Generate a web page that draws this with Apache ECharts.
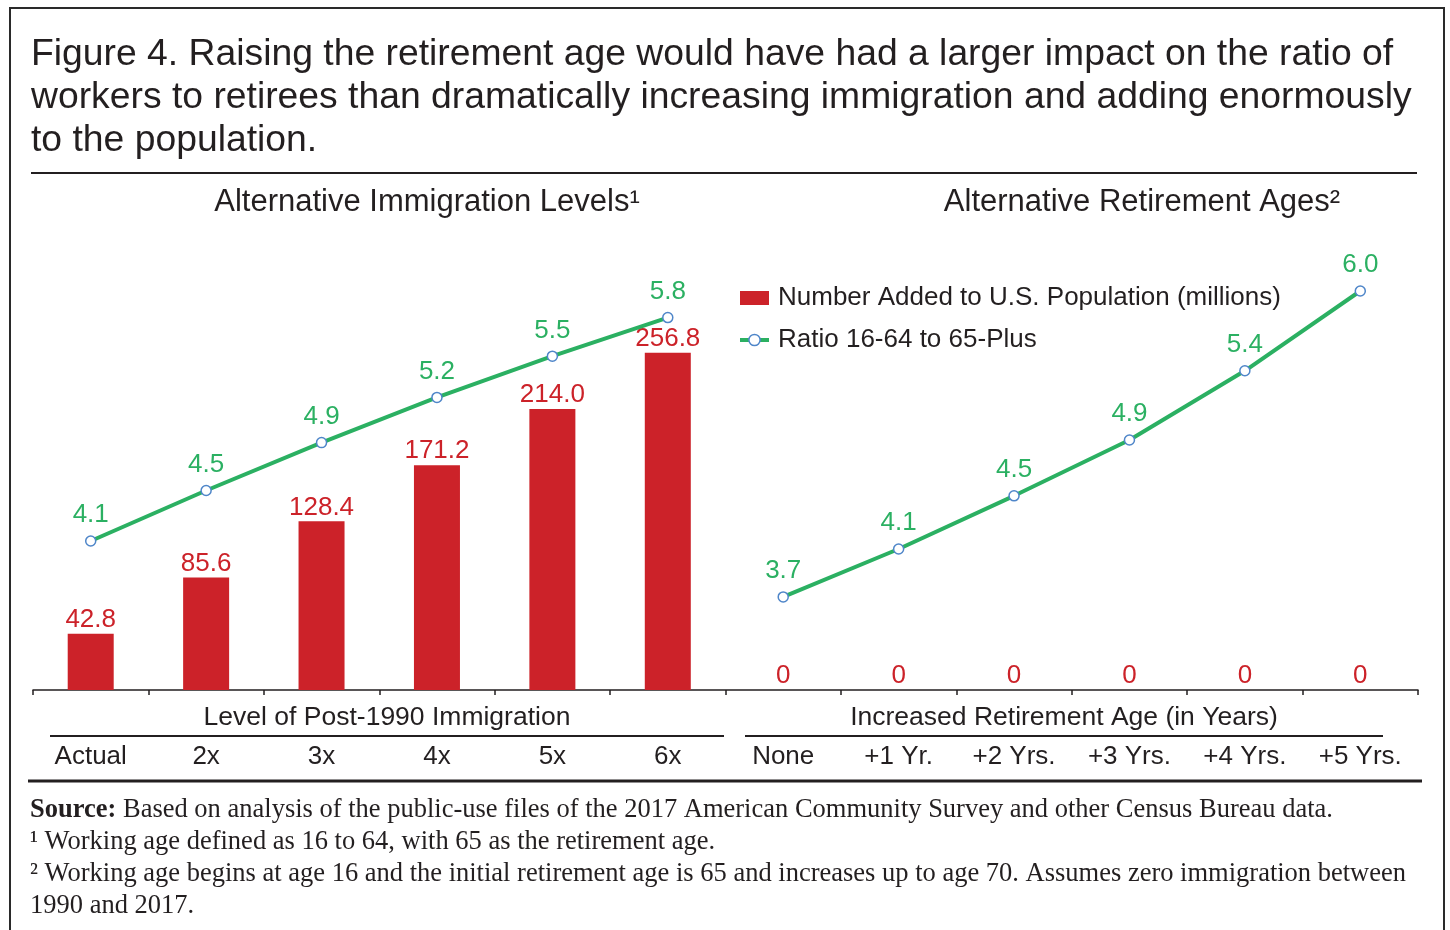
<!DOCTYPE html>
<html>
<head>
<meta charset="utf-8">
<script src="https://cdn.jsdelivr.net/npm/echarts@6/dist/echarts.min.js"></script>
<style>
  html, body { margin: 0; padding: 0; background: #fff; }
  #main { width: 1450px; height: 930px; }
</style>
</head>
<body>
<div id="main"></div>
<script>
const categories = ['Actual', '2x', '3x', '4x', '5x', '6x', 'None', '+1 Yr.', '+2 Yrs.', '+3 Yrs.', '+4 Yrs.', '+5 Yrs.'];
// millions added to U.S. population
const addedPop = [42.8, 85.6, 128.4, 171.2, 214.0, 256.8, 0, 0, 0, 0, 0, 0];
const ratioImmigration = [4.12, 4.5, 4.86, 5.2, 5.51, 5.8, null, null, null, null, null, null];
// ratio 16-64 to 65-plus, retirement age scenarios
const ratioRetirement = [null, null, null, null, null, null, 3.7, 4.06, 4.46, 4.88, 5.4, 6.0];

const RED = '#cc2229';
const GREEN = '#2bb062';
const INK = '#231f20';
const sans = '"Liberation Sans", Arial, sans-serif';
const serif = '"Liberation Serif", "Times New Roman", serif';

const chart = echarts.init(document.getElementById('main'));

const lineSeries = (data) => ({
  name: 'Ratio 16-64 to 65-Plus',
  type: 'line',
  yAxisIndex: 1,
  data: data,
  symbol: 'circle',
  symbolSize: 10,
  clip: false,
  lineStyle: { color: GREEN, width: 4 },
  itemStyle: { color: '#fff', borderColor: '#4f86c9', borderWidth: 1.5 },
  label: {
    show: true, position: 'top', distance: 7,
    color: GREEN, fontSize: 26, fontFamily: sans,
    formatter: p => p.value == null ? '' : p.value.toFixed(1)
  },
  z: 5
});

let option = {
  backgroundColor: '#fff',
  animation: false,
  title: {
    text: 'Figure 4. Raising the retirement age would have had a larger impact on the ratio of\nworkers to retirees than dramatically increasing immigration and adding enormously\nto the population.',
    left: 26,
    top: 28,
    textStyle: { fontFamily: sans, fontSize: 37.3, lineHeight: 43, fontWeight: 'normal', color: INK }
  },
  legend: {
    orient: 'vertical',
    left: 733,
    top: 280,
    itemGap: 16,
    itemWidth: 29,
    itemHeight: 14,
    textStyle: { fontFamily: sans, fontSize: 26, color: INK, padding: [0, 0, 0, 4] },
    data: [
      { name: 'Number Added to U.S. Population (millions)', icon: 'rect' },
      { name: 'Ratio 16-64 to 65-Plus',
        itemStyle: { color: '#fff', borderColor: '#4f86c9', borderWidth: 1.5 },
        lineStyle: { color: GREEN, width: 4 } }
    ]
  },
  grid: { left: 33, right: 32, top: 291, bottom: 240 },
  xAxis: {
    type: 'category',
    data: categories,
    axisLine: { lineStyle: { color: INK, width: 1.5 } },
    axisTick: { show: true, length: 5, lineStyle: { color: INK, width: 1.5 } },
    axisLabel: { margin: 54, fontFamily: sans, fontSize: 26, color: INK }
  },
  yAxis: [
    { type: 'value', min: 0, max: 303.8, show: false, splitLine: { show: false } },
    { type: 'value', min: 3, max: 6, show: false, splitLine: { show: false } }
  ],
  series: [
    {
      name: 'Number Added to U.S. Population (millions)',
      type: 'bar',
      data: addedPop,
      barWidth: 46,
      itemStyle: { color: RED },
      label: {
        show: true, position: 'top', distance: 1,
        color: RED, fontSize: 26, fontFamily: sans,
        formatter: p => p.value === 0 ? '0' : p.value.toFixed(1)
      }
    },
    lineSeries(ratioImmigration),
    lineSeries(ratioRetirement)
  ],
  graphic: [
    { type: 'rect', shape: { x: 10, y: 8, width: 1434, height: 960 },
      style: { fill: 'none', stroke: '#2a2a2a', lineWidth: 2 }, silent: true },
    { type: 'line', shape: { x1: 31, y1: 173, x2: 1417, y2: 173 },
      style: { stroke: INK, lineWidth: 2 } },
    { type: 'text', x: 427, y: 202,
      style: { text: 'Alternative Immigration Levels¹', fontFamily: sans, fontSize: 31, fill: INK,
        textAlign: 'center', textVerticalAlign: 'middle' } },
    { type: 'text', x: 1142, y: 202,
      style: { text: 'Alternative Retirement Ages²', fontFamily: sans, fontSize: 31, fill: INK,
        textAlign: 'center', textVerticalAlign: 'middle' } },
    { type: 'text', x: 387, y: 718,
      style: { text: 'Level of Post-1990 Immigration', fontFamily: sans, fontSize: 26.5, fill: INK,
        textAlign: 'center', textVerticalAlign: 'middle' } },
    { type: 'line', shape: { x1: 50, y1: 736, x2: 724, y2: 736 },
      style: { stroke: INK, lineWidth: 2 } },
    { type: 'text', x: 1064, y: 718,
      style: { text: 'Increased Retirement Age (in Years)', fontFamily: sans, fontSize: 26.5, fill: INK,
        textAlign: 'center', textVerticalAlign: 'middle' } },
    { type: 'line', shape: { x1: 745, y1: 736, x2: 1383, y2: 736 },
      style: { stroke: INK, lineWidth: 2 } },
    { type: 'line', shape: { x1: 28, y1: 781, x2: 1422, y2: 781 },
      style: { stroke: INK, lineWidth: 3 } },
    { type: 'text', x: 30, y: 794,
      style: {
        text: '{b|Source:} Based on analysis of the public-use files of the 2017 American Community Survey and other Census Bureau data.\n' +
              '¹ Working age defined as 16 to 64, with 65 as the retirement age.\n' +
              '² Working age begins at age 16 and the initial retirement age is 65 and increases up to age 70. Assumes zero immigration between\n' +
              '1990 and 2017.',
        fontFamily: serif, fontSize: 26.5, lineHeight: 32, fill: INK,
        rich: { b: { fontFamily: serif, fontSize: 26.5, fontWeight: 'bold', fill: INK, color: INK } }
      } }
  ]
};

option && chart.setOption(option);
</script>
</body>
</html>
